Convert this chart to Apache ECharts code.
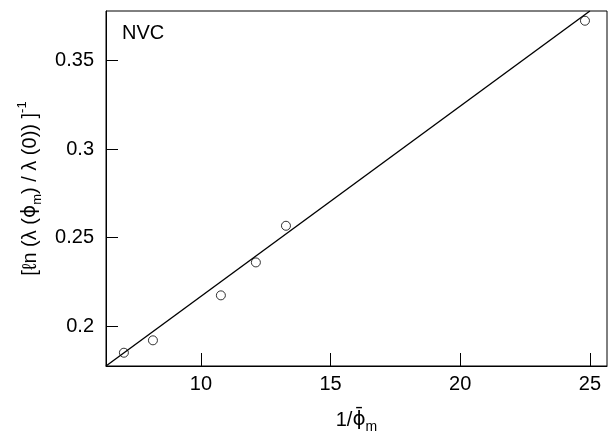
<!DOCTYPE html>
<html><head><meta charset="utf-8">
<script src="https://cdn.jsdelivr.net/npm/echarts@6/dist/echarts.min.js"></script>
<style>html,body{margin:0;padding:0;background:#fff}#c{width:616px;height:439px}</style>
</head><body><div id="c"></div>
<script>
// Data
const xValues = [7.03, 8.15, 10.77, 12.12, 13.28, 24.81];
const yValues = [0.185, 0.192, 0.2174, 0.236, 0.2567, 0.3725];
// fitted straight line (two end points)
const lineX = [6.34, 25.0];
const lineY = [0.1775, 0.378];
const xTicks = [10, 15, 20, 25];
const yTicks = [0.2, 0.25, 0.3, 0.35];
const panelLabel = 'NVC';

const FONT = '"Liberation Sans", Arial, sans-serif';
const FS = 20;
const chart = echarts.init(document.getElementById('c'), null, {renderer: 'canvas'});
chart.setOption({
  animation: false,
  backgroundColor: '#fff',
  grid: {left: 106, right: 9, top: 11, bottom: 71, show: true, borderColor: '#000', borderWidth: 1, backgroundColor: 'transparent'},
  xAxis: {
    type: 'value', min: 6.34, max: 25.66,
    axisLine: {show: true, lineStyle: {color: '#000', width: 1}},
    axisTick: {show: true, inside: true, length: 13, customValues: xTicks, lineStyle: {color: '#000', width: 1}},
    axisLabel: {customValues: xTicks, color: '#000', fontSize: FS, fontFamily: FONT, margin: 8},
    splitLine: {show: false},
    name: '{a|1/}{phi|ϕ\u0304}{sub|m}',
    nameLocation: 'middle', nameGap: 40,
    nameTextStyle: {
      color: '#000', fontFamily: FONT, fontSize: FS,
      rich: {
        a: {fontSize: FS, fontFamily: FONT, color: '#000', lineHeight: 28},
        phi: {fontSize: FS, fontFamily: '"DejaVu Sans", sans-serif', color: '#000', lineHeight: 28},
        sub: {fontSize: 14, fontFamily: FONT, color: '#000', lineHeight: 14, verticalAlign: 'bottom'}
      }
    }
  },
  yAxis: {
    type: 'value', min: 0.1775, max: 0.378,
    axisLine: {show: true, lineStyle: {color: '#000', width: 1}},
    axisTick: {show: true, inside: true, length: 12, customValues: yTicks, lineStyle: {color: '#000', width: 1}},
    axisLabel: {customValues: yTicks, color: '#000', fontSize: FS, fontFamily: FONT, margin: 12},
    splitLine: {show: false},
    name: '{a|[ℓn (λ (}{phi|ϕ}{sub|m}{a|) / λ (0)) ]}{sup|-1}',
    nameLocation: 'middle', nameGap: 62, nameRotate: 90,
    nameTextStyle: {
      color: '#000', fontFamily: FONT, fontSize: FS,
      rich: {
        a: {fontSize: FS, fontFamily: FONT, color: '#000', lineHeight: 28},
        phi: {fontSize: FS, fontFamily: '"DejaVu Sans", sans-serif', color: '#000', lineHeight: 28},
        sub: {fontSize: 13, fontFamily: FONT, color: '#000', lineHeight: 13, verticalAlign: 'bottom'},
        sup: {fontSize: 13, fontFamily: FONT, color: '#000', lineHeight: 13, verticalAlign: 'top'}
      }
    }
  },
  graphic: [{
    type: 'text', left: 122, top: 23,
    style: {text: panelLabel, font: FS + 'px ' + FONT, fill: '#000'}
  }],
  series: [
    {
      type: 'line', data: lineX.map((x, i) => [x, lineY[i]]),
      symbol: 'none', clip: true,
      lineStyle: {color: '#000', width: 1.4}
    },
    {
      type: 'scatter', data: xValues.map((x, i) => [x, yValues[i]]),
      symbol: 'circle', symbolSize: 9,
      itemStyle: {color: '#fff', borderColor: '#000', borderWidth: 1}
    }
  ]
});
</script></body></html>
